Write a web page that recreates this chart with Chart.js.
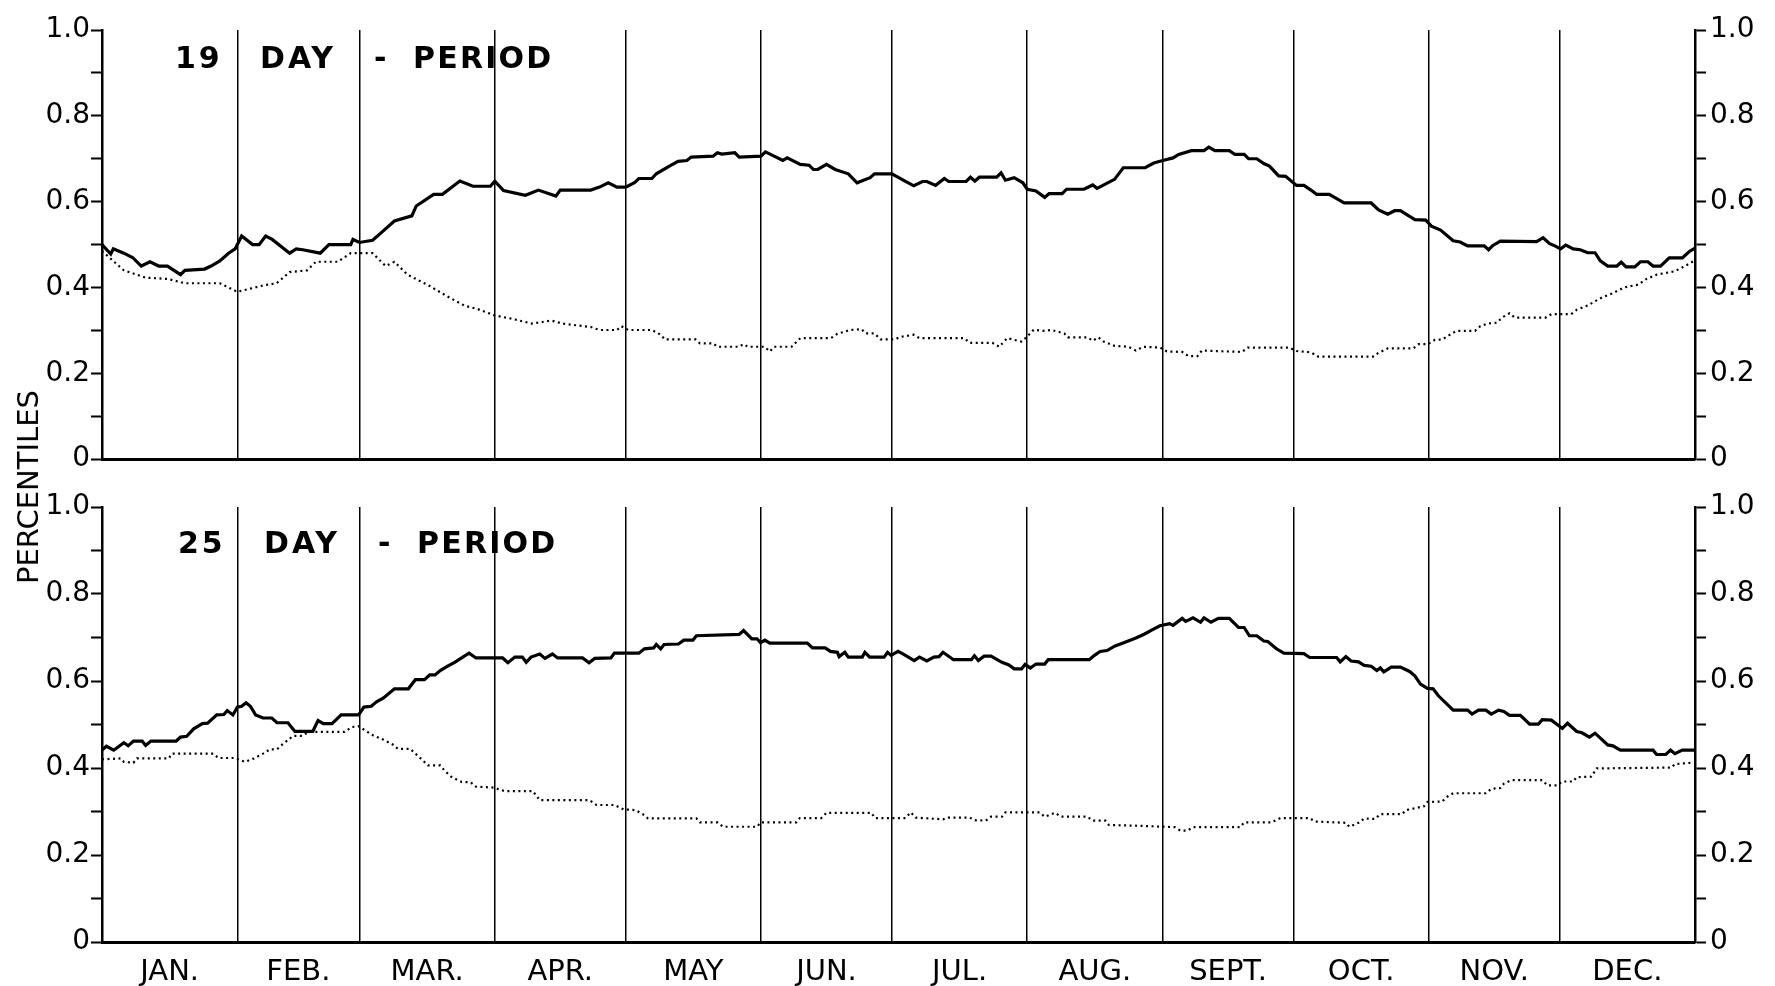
<!DOCTYPE html>
<html>
<head>
<meta charset="utf-8">
<script src="https://cdn.jsdelivr.net/npm/chart.js@4/dist/chart.umd.min.js"></script>
<style>
  body { margin: 0; background: #fff; }
  #wrap { position: relative; width: 1775px; height: 986px; font-family: "DejaVu Sans", sans-serif; color: #000; }
  canvas { position: absolute; left: 0; }
  .ttl { position: absolute; font: bold 30px "DejaVu Sans", sans-serif; letter-spacing: 3px; line-height: 1; }
  .ttl.w { letter-spacing: 2.2px; }
  #ylab { position: absolute; left: 28px; top: 487px; transform: translate(-50%, -50%) rotate(-90deg); font: 29px "DejaVu Sans", sans-serif; white-space: nowrap; }
</style>
</head>
<body>
<div id="wrap">
  <canvas id="top" width="1775" height="480" style="top:0"></canvas>
  <canvas id="bot" width="1775" height="506" style="top:480px"></canvas>
  <div id="ylab">PERCENTILES</div>
  <span class="ttl" style="left:175px;top:43px">19</span>
  <span class="ttl" style="left:260px;top:43px">DAY</span>
  <span class="ttl" style="left:374px;top:43px">-</span>
  <span class="ttl w" style="left:413px;top:43px">PERIOD</span>
  <span class="ttl" style="left:178px;top:528px">25</span>
  <span class="ttl" style="left:264px;top:528px">DAY</span>
  <span class="ttl" style="left:378px;top:528px">-</span>
  <span class="ttl w" style="left:417px;top:528px">PERIOD</span>
</div>
<script>
// month boundaries in day-of-year, and labels
let monthEdges = [0, 31, 59, 90, 120, 151, 181, 212, 243, 273, 304, 334, 365];
let monthLabels = ["JAN.", "FEB.", "MAR.", "APR.", "MAY", "JUN.", "JUL.", "AUG.", "SEPT.", "OCT.", "NOV.", "DEC."];
let yTicks = [0, 0.1, 0.2, 0.3, 0.4, 0.5, 0.6, 0.7, 0.8, 0.9, 1.0];

// 19 day period - solid curve [day, value]
let upper19 = [[0,0.50],[2,0.478],[2.6,0.49],[5,0.48],[7,0.47],[9,0.45],[11,0.46],[13,0.45],[15,0.45],[18,0.43],[19,0.44],[23.5,0.443],[25,0.45],[27,0.462],[29,0.48],[30.5,0.49],[32,0.52],[34.5,0.50],[36,0.50],[37.5,0.52],[39,0.512],[43,0.48],[44.5,0.49],[46,0.488],[50,0.48],[52,0.50],[57,0.50],[57.5,0.512],[59,0.505],[62,0.51],[64,0.528],[67,0.555],[71,0.567],[72,0.59],[76,0.617],[78,0.617],[82,0.648],[85,0.636],[89,0.636],[90,0.648],[92,0.626],[97,0.615],[100,0.627],[104,0.613],[105,0.627],[112,0.627],[114,0.634],[116,0.644],[118,0.634],[120,0.634],[122,0.644],[123,0.654],[126,0.654],[127,0.665],[130,0.683],[132,0.694],[134,0.696],[135,0.704],[140,0.706],[141,0.714],[142,0.711],[145,0.714],[146,0.704],[151,0.706],[152,0.716],[154,0.706],[156,0.696],[157,0.702],[160,0.687],[162,0.685],[163,0.675],[164,0.675],[166,0.687],[168,0.675],[171,0.665],[173,0.644],[176,0.656],[177,0.665],[181,0.665],[184,0.648],[186,0.637],[188,0.647],[189,0.647],[191,0.638],[193,0.654],[194,0.647],[198,0.647],[199,0.657],[200,0.648],[201,0.657],[205,0.657],[206,0.667],[207,0.650],[209,0.656],[211,0.644],[212,0.629],[214,0.625],[216,0.610],[217,0.619],[220,0.619],[221,0.629],[225,0.629],[227,0.639],[228,0.631],[232,0.652],[234,0.679],[239,0.679],[241,0.69],[243.5,0.697],[245.4,0.702],[246.7,0.71],[249.6,0.719],[252.5,0.719],[253.6,0.727],[255,0.719],[258.3,0.719],[259.6,0.71],[261.7,0.71],[262.7,0.70],[264.6,0.70],[266.2,0.689],[267.5,0.683],[269.6,0.66],[271.2,0.659],[273.7,0.638],[275.4,0.638],[277,0.627],[278.3,0.617],[281.2,0.617],[282.9,0.607],[284.6,0.597],[290.8,0.597],[292.5,0.581],[294.6,0.571],[296.2,0.579],[297.5,0.579],[299.6,0.566],[300.8,0.558],[303.3,0.557],[304.6,0.543],[306.7,0.534],[309.6,0.509],[311.2,0.506],[312.9,0.497],[316.7,0.497],[317.7,0.488],[318.7,0.498],[320.4,0.508],[328.7,0.507],[330.2,0.516],[331.7,0.502],[332.9,0.497],[334.2,0.49],[335.4,0.499],[337.1,0.49],[338.7,0.488],[340.4,0.481],[342.1,0.481],[343.3,0.462],[345,0.45],[347.1,0.45],[348.1,0.459],[349.2,0.448],[351.2,0.448],[352.5,0.46],[354.2,0.46],[355.4,0.45],[357.1,0.45],[359.1,0.469],[362.1,0.469],[363.7,0.484],[365,0.492]];

// 19 day period - dotted curve
let lower19 = [[0,0.485],[5,0.44],[10,0.423],[15,0.42],[19,0.41],[27,0.41],[29,0.40],[31,0.39],[37,0.405],[40,0.41],[43,0.436],[47,0.44],[49,0.46],[54,0.46],[57,0.48],[62,0.48],[65,0.45],[67,0.46],[70,0.43],[75,0.404],[79,0.38],[83,0.358],[86,0.35],[90,0.335],[94,0.327],[98.5,0.316],[103,0.323],[105.5,0.316],[112,0.308],[114,0.301],[118,0.301],[119,0.31],[120.6,0.301],[126,0.301],[128,0.29],[129,0.279],[136,0.279],[137,0.27],[140,0.27],[141,0.262],[146,0.262],[147,0.268],[148,0.262],[151.8,0.262],[153,0.251],[154,0.262],[158,0.262],[160,0.282],[167,0.282],[168.5,0.292],[171.4,0.301],[174,0.303],[175,0.293],[177,0.293],[178.4,0.279],[181.6,0.279],[183,0.285],[186,0.29],[187.3,0.282],[197.6,0.282],[198.8,0.271],[204,0.271],[205.6,0.262],[207.4,0.282],[210.7,0.274],[211.9,0.285],[213.5,0.302],[215.6,0.299],[217.6,0.301],[220.5,0.293],[221.3,0.284],[225.8,0.284],[227,0.276],[228.3,0.284],[229.5,0.274],[232,0.264],[235.2,0.262],[236.9,0.253],[238.5,0.262],[242.5,0.26],[244,0.251],[247.5,0.25],[249,0.24],[251,0.24],[252,0.253],[261.2,0.25],[262.5,0.26],[272,0.26],[273.7,0.252],[277,0.249],[278.7,0.239],[291.2,0.239],[292.5,0.248],[294.6,0.258],[300.4,0.258],[301.7,0.268],[303.8,0.268],[305.4,0.278],[307.1,0.279],[308.7,0.289],[310.4,0.299],[314.6,0.299],[315.8,0.31],[317.5,0.316],[319.6,0.318],[320.8,0.33],[322.5,0.34],[323.7,0.33],[330.8,0.33],[332.1,0.338],[336.6,0.338],[337.9,0.348],[340.4,0.358],[342.1,0.368],[343.7,0.377],[346.2,0.387],[348.7,0.40],[352.1,0.407],[353.7,0.419],[356.2,0.43],[360.4,0.438],[362.5,0.449],[364.6,0.461]];

// 25 day period - solid curve
let upper25 = [[0,0.441],[1,0.45],[2.7,0.441],[5,0.458],[6,0.451],[7.2,0.462],[9.2,0.462],[10,0.452],[11.2,0.462],[17,0.462],[18,0.471],[19.4,0.473],[21,0.49],[23,0.502],[24.2,0.503],[26.3,0.522],[27.9,0.523],[28.7,0.532],[30,0.522],[31,0.54],[32,0.542],[33,0.55],[34,0.542],[35.2,0.522],[36.9,0.515],[38.9,0.515],[40.1,0.504],[42.6,0.504],[44.2,0.484],[48.3,0.484],[49.5,0.509],[50.7,0.502],[52.7,0.502],[54.8,0.522],[58.8,0.522],[60,0.54],[61.7,0.542],[62.9,0.552],[64.5,0.561],[67,0.582],[70.2,0.582],[71.8,0.603],[73.9,0.603],[75.1,0.614],[76.3,0.614],[77.5,0.624],[79.2,0.634],[80.8,0.643],[82.4,0.653],[84.1,0.664],[85.7,0.653],[91.8,0.653],[93,0.642],[94.6,0.655],[96.3,0.655],[97.2,0.643],[98.3,0.655],[100.3,0.662],[101.5,0.652],[103.2,0.662],[104.4,0.653],[110.1,0.653],[111.6,0.642],[112.9,0.652],[116.6,0.653],[117.4,0.664],[123,0.664],[124.3,0.674],[126.4,0.676],[127,0.684],[128,0.674],[128.8,0.684],[132.1,0.685],[133.3,0.694],[135.4,0.694],[136.2,0.704],[146,0.707],[147,0.716],[148.9,0.697],[150.1,0.697],[150.9,0.688],[151.9,0.694],[153,0.687],[161.6,0.687],[162.8,0.676],[165.7,0.676],[166.9,0.668],[168.5,0.666],[168.9,0.656],[170.2,0.666],[171,0.655],[174.2,0.655],[174.8,0.666],[175.9,0.655],[179.2,0.655],[180,0.666],[180.8,0.659],[182.4,0.668],[183.7,0.661],[186.1,0.647],[187.3,0.655],[189,0.646],[190.6,0.655],[191.8,0.656],[192.7,0.666],[195.1,0.649],[199.2,0.649],[199.9,0.658],[200.8,0.647],[202.1,0.657],[203.7,0.657],[206.2,0.643],[207.8,0.637],[209,0.628],[210.7,0.628],[211.5,0.638],[212.7,0.63],[214,0.639],[216,0.639],[216.8,0.649],[226.2,0.649],[227.4,0.659],[228.7,0.668],[230.3,0.67],[232,0.68],[234.4,0.689],[236.9,0.699],[238.9,0.708],[240.5,0.717],[242.4,0.727],[244.6,0.732],[245.4,0.728],[247.5,0.744],[248.3,0.737],[250,0.745],[251.7,0.735],[252.5,0.745],[254.1,0.735],[255.8,0.744],[258.3,0.744],[260.4,0.723],[261.7,0.723],[262.9,0.704],[264.6,0.704],[266.2,0.692],[267.1,0.691],[269.1,0.674],[270.8,0.664],[275.4,0.663],[276.7,0.654],[282.9,0.654],[283.7,0.644],[285,0.656],[286.2,0.646],[287.9,0.644],[289.2,0.636],[290.8,0.634],[292.1,0.624],[292.9,0.63],[293.7,0.621],[295.4,0.632],[297.5,0.632],[299.6,0.622],[300.8,0.612],[302.1,0.593],[303.7,0.583],[305,0.582],[306.2,0.566],[309.6,0.533],[312.9,0.533],[313.9,0.524],[315.4,0.533],[317.1,0.533],[318.3,0.524],[320,0.533],[321.2,0.53],[322.5,0.521],[325,0.521],[327.1,0.501],[329.1,0.501],[330,0.511],[332.1,0.51],[334.6,0.491],[335.8,0.503],[337.9,0.484],[339.1,0.481],[340.8,0.471],[342.1,0.48],[345,0.453],[346.2,0.451],[347.9,0.441],[355.4,0.441],[356.2,0.431],[358.3,0.431],[359.4,0.441],[360.4,0.433],[362.1,0.441],[365,0.441]];

// 25 day period - dotted curve
let lower25 = [[0,0.42],[4.3,0.422],[5,0.414],[7.2,0.412],[8,0.422],[15.3,0.422],[16,0.433],[25.5,0.433],[26.7,0.423],[30.4,0.423],[32.8,0.414],[34.8,0.422],[36.9,0.433],[38.5,0.443],[40.1,0.443],[41.3,0.454],[42.6,0.464],[43.8,0.474],[45.8,0.474],[47.4,0.483],[55.6,0.483],[57.2,0.494],[58.8,0.496],[60.5,0.485],[62.1,0.475],[64.5,0.465],[66.6,0.454],[67.8,0.444],[70.6,0.444],[72.7,0.425],[74.7,0.406],[77.5,0.406],[78.4,0.395],[80,0.38],[82.4,0.368],[84.5,0.367],[85.7,0.357],[89.7,0.355],[92.2,0.347],[98.7,0.347],[100.3,0.326],[111.7,0.326],[113.3,0.315],[117.4,0.315],[119.5,0.305],[122.3,0.303],[123.9,0.294],[125.1,0.284],[136.2,0.284],[137,0.275],[141,0.275],[142.3,0.265],[150.1,0.265],[150.9,0.275],[159.1,0.275],[159.9,0.285],[164.8,0.285],[166,0.297],[176.3,0.297],[177.1,0.285],[184.1,0.285],[185.3,0.298],[186.5,0.286],[192.7,0.282],[193.9,0.286],[198.8,0.286],[200,0.28],[202.5,0.279],[203.7,0.288],[206.2,0.288],[207,0.298],[214.8,0.298],[216,0.288],[218.4,0.297],[219.7,0.288],[225.8,0.288],[227,0.279],[229.9,0.279],[230.7,0.269],[238,0.267],[245.8,0.264],[247.1,0.256],[248.7,0.256],[250,0.264],[260.8,0.264],[261.7,0.275],[267.9,0.275],[270,0.285],[276.7,0.285],[277.9,0.277],[285,0.274],[285.8,0.265],[287.9,0.274],[289.2,0.284],[291.7,0.283],[292.9,0.294],[297.9,0.294],[298.7,0.303],[302.9,0.312],[303.7,0.322],[307.1,0.323],[307.9,0.332],[309.6,0.342],[317.1,0.342],[318.3,0.352],[320.4,0.354],[321.2,0.364],[322.9,0.372],[330,0.372],[331.2,0.36],[333.3,0.36],[334.6,0.369],[337.1,0.369],[337.9,0.379],[341.2,0.38],[342.5,0.399],[359.6,0.401],[360.4,0.409],[364.1,0.412]];

let monthMids = monthEdges.slice(0, -1).map((e, i) => (e + monthEdges[i + 1]) / 2);

function yLabel(v) {
    let r = Math.round(v * 10);
    if (r % 2) return '';
    if (r == 0) return '0';
    return (r / 10).toFixed(1);
}

function yAxis(pos, w) {
    return {
        type: 'linear',
        position: pos,
        min: 0,
        max: 1,
        afterBuildTicks: function(s) {
            s.ticks = yTicks.map(v => ({ value: v }));
        },
        afterFit: function(s) { s.width = w; },
        grid: { drawOnChartArea: false, drawTicks: true, tickLength: 11, tickWidth: 2, tickColor: '#000' },
        border: { display: true, color: '#000', width: 2.5 },
        ticks: {
            autoSkip: false,
            padding: pos == 'left' ? 1 : 4,
            color: '#000',
            font: { family: 'DejaVu Sans', size: 28 },
            callback: yLabel
        }
    };
}

function lineSet(pts, dotted) {
    return {
        data: pts.map(p => ({ x: p[0], y: p[1] })),
        borderColor: '#000',
        borderWidth: dotted ? 2.2 : 3.2,
        borderDash: dotted ? [2, 3.5] : [],
        pointRadius: 0,
        tension: 0,
        fill: false
    };
}

function makeChart(id, upper, lower, withLabels, padTop, xHeight) {
    var ctx = document.getElementById(id).getContext('2d');
    var config = {
        type: 'line',
        data: { datasets: [lineSet(upper, false), lineSet(lower, true)] },
        options: {
            responsive: false,
            animation: false,
            layout: { padding: { top: padTop, left: 0, right: 0, bottom: 0 } },
            plugins: { legend: { display: false }, tooltip: { enabled: false } },
            scales: {
                x: {
                    type: 'linear',
                    min: 0,
                    max: 365,
                    afterBuildTicks: function(s) {
                        let vals = withLabels ? monthEdges.concat(monthMids) : monthEdges.slice();
                        vals.sort((a, b) => a - b);
                        s.ticks = vals.map(v => ({ value: v }));
                    },
                    afterFit: function(s) { s.height = xHeight; },
                    grid: {
                        drawTicks: false,
                        lineWidth: 1.5,
                        color: c => (c.tick && monthEdges.indexOf(c.tick.value) >= 0) ? '#000' : 'rgba(0,0,0,0)'
                    },
                    border: { display: true, color: '#000', width: 3 },
                    ticks: {
                        display: withLabels,
                        autoSkip: false,
                        maxRotation: 0,
                        minRotation: 0,
                        padding: 13,
                        color: '#000',
                        font: { family: 'DejaVu Sans', size: 29 },
                        callback: function(v) {
                            let i = monthMids.indexOf(v);
                            return i >= 0 ? monthLabels[i] : '';
                        }
                    }
                },
                y: yAxis('left', 102),
                y2: yAxis('right', 80)
            }
        }
    };
    return new Chart(ctx, config);
}

makeChart('top', upper19, lower19, false, 30, 18);
makeChart('bot', upper25, lower25, true, 27, 44);
</script>
</body>
</html>
